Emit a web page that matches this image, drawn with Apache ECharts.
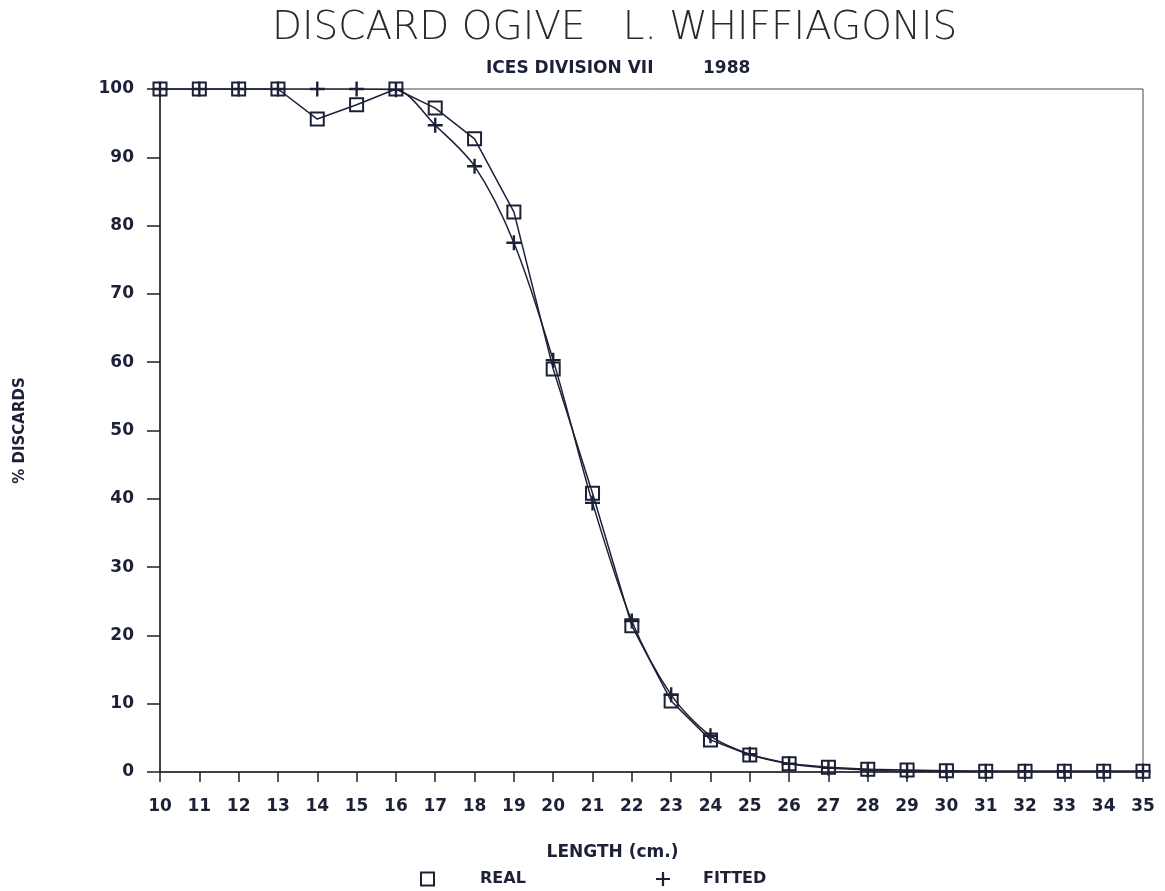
<!DOCTYPE html>
<html>
<head>
<meta charset="utf-8">
<script src="https://cdn.jsdelivr.net/npm/echarts@6/dist/echarts.min.js"></script>
<style>
  html, body { margin: 0; padding: 0; background: #fff; }
  #main { width: 1165px; height: 891px; }
</style>
</head>
<body>
<div id="main"></div>
<script>
// lengths (cm) and % discards
var lengths = [10, 11, 12, 13, 14, 15, 16, 17, 18, 19, 20, 21, 22, 23, 24, 25, 26, 27, 28, 29, 30, 31, 32, 33, 34, 35];
var realPct = [100, 100, 100, 100, 95.6, 97.7, 100, 97.2, 92.7, 82.0, 59.0, 40.8, 21.4, 10.4, 4.7, 2.5, 1.2, 0.7, 0.4, 0.3, 0.2, 0.1, 0.1, 0.1, 0.1, 0.1];
var fittedPct = [100, 100, 100, 100, 100, 100, 99.9, 94.7, 88.7, 77.5, 60.3, 39.4, 22.1, 11.3, 5.3, 2.6, 1.2, 0.6, 0.3, 0.1, 0.1, 0.1, 0.1, 0.1, 0.1, 0.1];

var ink = '#1c2138';
var plusPath = 'path://M4.2,0H5.8V4.2H10V5.8H5.8V10H4.2V5.8H0V4.2H4.2Z';

function pairs(xs, ys) {
    var out = [];
    for (var i = 0; i < xs.length; i++) out.push([xs[i], ys[i]]);
    return out;
}

var boldText = { color: ink, fontFamily: 'DejaVu Sans', fontWeight: 'bold' };

var myChart = echarts.init(document.getElementById('main'));
var option = {
    backgroundColor: '#fff',
    title: [{
        text: 'DISCARD OGIVE   L. WHIFFIAGONIS',
        left: 267,
        top: 4,
        textStyle: { color: '#2a2a2a', fontFamily: 'DejaVu Sans', fontWeight: 200, fontSize: 39 }
    }, {
        text: 'ICES DIVISION VII',
        left: 481,
        top: 55,
        textStyle: echarts.util.extend({ fontSize: 17 }, boldText)
    }, {
        text: '1988',
        left: 698,
        top: 55,
        textStyle: echarts.util.extend({ fontSize: 17 }, boldText)
    }],
    grid: {
        left: 160, right: 22, top: 89, bottom: 119,
        show: true, borderColor: '#444', borderWidth: 1
    },
    legend: [{
        data: [{ name: 'REAL', icon: 'rect', itemStyle: { color: 'rgba(0,0,0,0)', borderColor: ink, borderWidth: 2 } }],
        left: 415, top: 866, itemWidth: 13, itemHeight: 13,
        textStyle: echarts.util.extend({ fontSize: 16, padding: [0, 0, 0, 41] }, boldText)
    }, {
        data: [{ name: 'FITTED', icon: plusPath, itemStyle: { color: ink } }],
        left: 651, top: 866, itemWidth: 14, itemHeight: 14,
        textStyle: echarts.util.extend({ fontSize: 16, padding: [0, 0, 0, 28] }, boldText)
    }],
    xAxis: {
        type: 'value', min: 10, max: 35, interval: 1,
        name: 'LENGTH (cm.)', nameLocation: 'middle', nameGap: 72,
        nameTextStyle: echarts.util.extend({ fontSize: 17, padding: [0, 78, 0, 0] }, boldText),
        axisLine: { lineStyle: { color: '#222', width: 1.5 } },
        axisTick: { length: 10, lineStyle: { color: '#222', width: 1.5 } },
        axisLabel: echarts.util.extend({ margin: 26, fontSize: 17 }, boldText),
        splitLine: { show: false }
    },
    yAxis: {
        type: 'value', min: 0, max: 100, interval: 10,
        name: '% DISCARDS', nameLocation: 'middle', nameGap: 132,
        nameTextStyle: echarts.util.extend({ fontSize: 15 }, boldText),
        axisLine: { lineStyle: { color: '#222', width: 1.5 } },
        axisTick: { length: 13, lineStyle: { color: '#222', width: 1.5 } },
        axisLabel: echarts.util.extend({ margin: 26, fontSize: 17 }, boldText),
        splitLine: { show: false }
    },
    series: [{
        name: 'REAL',
        type: 'line',
        data: pairs(lengths, realPct),
        symbol: 'rect',
        symbolSize: 13,
        itemStyle: { color: 'rgba(0,0,0,0)', borderColor: ink, borderWidth: 2 },
        lineStyle: { color: ink, width: 1.5 },
        z: 3
    }, {
        name: 'FITTED',
        type: 'line',
        data: pairs(lengths, fittedPct),
        symbol: plusPath,
        symbolSize: 15,
        smooth: 0.3,
        itemStyle: { color: ink },
        lineStyle: { color: ink, width: 1.5 },
        z: 2
    }]
};
myChart.setOption(option);
</script>
</body>
</html>
